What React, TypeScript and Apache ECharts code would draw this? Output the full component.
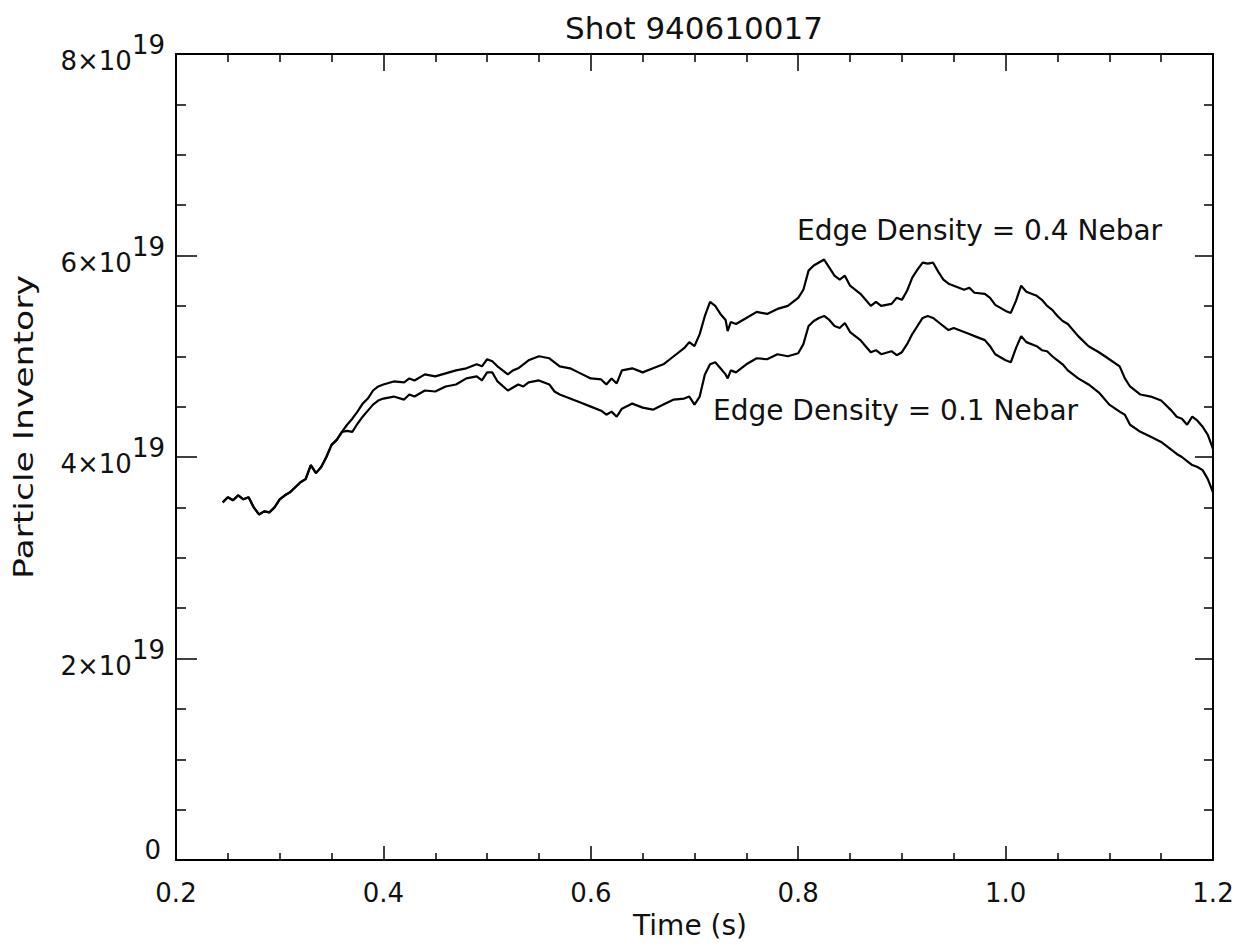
import React, { useEffect, useRef } from "react";
import * as echarts from "echarts";

// Time (s)
const timeShared: number[] = [0.245, 0.25, 0.255, 0.26, 0.265, 0.27, 0.275, 0.28, 0.285, 0.29, 0.295, 0.3, 0.305, 0.31, 0.315, 0.32, 0.325, 0.33, 0.335, 0.34, 0.345, 0.35, 0.355, 0.36];
// Particle inventory (x10^19), both curves overlap here
const valShared: number[] = [3.55, 3.6, 3.57, 3.62, 3.58, 3.6, 3.5, 3.43, 3.46, 3.45, 3.5, 3.58, 3.62, 3.65, 3.7, 3.75, 3.78, 3.92, 3.84, 3.9, 4.0, 4.12, 4.17, 4.25];

const timeSplit: number[] = [
  0.365, 0.37, 0.375, 0.38, 0.385, 0.39, 0.395, 0.4, 0.41, 0.42, 0.425, 0.43, 0.44, 0.45, 0.46, 0.47, 0.48, 0.49, 0.495, 0.5,
  0.505, 0.51, 0.52, 0.525, 0.53, 0.535, 0.54, 0.55, 0.56, 0.565, 0.57, 0.58, 0.59, 0.6, 0.61, 0.615, 0.62, 0.625, 0.63, 0.64,
  0.65, 0.66, 0.67, 0.68, 0.69, 0.695, 0.7, 0.705, 0.71, 0.715, 0.72, 0.725, 0.73, 0.732, 0.735, 0.74, 0.75, 0.76, 0.77, 0.78,
  0.79, 0.8, 0.805, 0.81, 0.815, 0.82, 0.825, 0.83, 0.835, 0.84, 0.845, 0.85, 0.86, 0.865, 0.87, 0.875, 0.88, 0.89, 0.895, 0.9,
  0.905, 0.91, 0.915, 0.92, 0.925, 0.93, 0.935, 0.94, 0.945, 0.95, 0.96, 0.965, 0.97, 0.98, 0.985, 0.99, 1.0, 1.005, 1.01, 1.015,
  1.02, 1.03, 1.035, 1.04, 1.045, 1.05, 1.055, 1.06, 1.07, 1.08, 1.09, 1.1, 1.11, 1.115, 1.12, 1.13, 1.14, 1.15, 1.16, 1.165,
  1.17, 1.175, 1.18, 1.185, 1.19, 1.195, 1.2,
];
// Edge Density = 0.4 Nebar (x10^19)
const edge04: number[] = [
  4.32, 4.38, 4.45, 4.53, 4.58, 4.66, 4.7, 4.72, 4.75, 4.74, 4.78, 4.76, 4.82, 4.8, 4.83, 4.86, 4.88, 4.92, 4.9, 4.97,
  4.95, 4.9, 4.82, 4.86, 4.88, 4.92, 4.96, 5.0, 4.98, 4.94, 4.9, 4.88, 4.83, 4.78, 4.77, 4.72, 4.78, 4.73, 4.86, 4.88,
  4.84, 4.88, 4.92, 5.0, 5.08, 5.14, 5.1, 5.22, 5.4, 5.54, 5.5, 5.42, 5.36, 5.25, 5.34, 5.32, 5.38, 5.44, 5.42, 5.47,
  5.5, 5.58, 5.66, 5.85, 5.9, 5.93, 5.96, 5.88, 5.8, 5.76, 5.8, 5.7, 5.62, 5.56, 5.5, 5.54, 5.5, 5.52, 5.58, 5.56,
  5.65, 5.78, 5.86, 5.93, 5.92, 5.93, 5.84, 5.76, 5.72, 5.7, 5.66, 5.68, 5.63, 5.62, 5.58, 5.51, 5.45, 5.43, 5.55, 5.7,
  5.64, 5.6, 5.56, 5.5, 5.46, 5.4, 5.35, 5.32, 5.2, 5.1, 5.04, 4.97, 4.9, 4.78, 4.7, 4.62, 4.6, 4.56, 4.46, 4.4,
  4.38, 4.32, 4.4, 4.36, 4.3, 4.22, 4.08,
];
// Edge Density = 0.1 Nebar (x10^19)
const edge01: number[] = [
  4.26, 4.25, 4.33, 4.4, 4.46, 4.52, 4.56, 4.58, 4.6, 4.57, 4.62, 4.6, 4.66, 4.65, 4.7, 4.72, 4.78, 4.8, 4.76, 4.84,
  4.84, 4.75, 4.66, 4.69, 4.72, 4.7, 4.74, 4.76, 4.72, 4.65, 4.62, 4.58, 4.54, 4.5, 4.46, 4.42, 4.45, 4.4, 4.48, 4.53,
  4.49, 4.47, 4.52, 4.57, 4.58, 4.6, 4.52, 4.6, 4.82, 4.92, 4.94, 4.88, 4.82, 4.78, 4.86, 4.84, 4.92, 4.98, 4.97, 5.02,
  5.0, 5.03, 5.12, 5.3, 5.35, 5.38, 5.4, 5.36, 5.3, 5.28, 5.33, 5.24, 5.16, 5.1, 5.04, 5.06, 5.02, 5.05, 5.01, 5.04,
  5.12, 5.22, 5.3, 5.38, 5.4, 5.38, 5.34, 5.3, 5.26, 5.28, 5.24, 5.22, 5.2, 5.16, 5.1, 5.02, 4.96, 4.94, 5.08, 5.2,
  5.14, 5.1, 5.06, 5.05, 5.0, 4.96, 4.92, 4.86, 4.78, 4.72, 4.64, 4.52, 4.45, 4.42, 4.32, 4.25, 4.2, 4.15, 4.07, 4.03,
  4.0, 3.96, 3.92, 3.9, 3.87, 3.78, 3.65,
];

const FONT = "DejaVu Sans";
const INK = "#111";

export default function App() {
  const ref = useRef<HTMLDivElement>(null);
  useEffect(() => {
    if (!ref.current) return;
    const chart = echarts.init(ref.current, undefined, { renderer: "svg" });
    const pair = (t: number[], v: number[]) => t.map((x, i) => [x, v[i]]);
    const shared = pair(timeShared, valShared);
    const upper = shared.concat(pair(timeSplit, edge04));
    const lower = shared.concat(pair(timeSplit, edge01));
    const axisLine = { show: true, onZero: false, lineStyle: { color: "#000", width: 2 } };
    const tickStyle = { color: "#000", width: 1.5 };
    chart.setOption({
      animation: false,
      backgroundColor: "#fff",
      grid: { left: 168, right: 25, top: 46, bottom: 81, containLabel: false },
      xAxis: [
        {
          type: "value",
          min: 0.2,
          max: 1.2,
          interval: 0.2,
          position: "bottom",
          axisLine,
          axisTick: { inside: true, length: 14, lineStyle: tickStyle },
          minorTick: { show: true, splitNumber: 4, length: 7, lineStyle: tickStyle },
          splitLine: { show: false },
          axisLabel: {
            margin: 18,
            formatter: (v: number) => `{t|${v.toFixed(1)}}`,
            rich: {
              t: { fontFamily: FONT, fontSize: 26, color: INK, lineHeight: 30 },
            },
          },
        },
        {
          type: "value",
          min: 0.2,
          max: 1.2,
          interval: 0.2,
          position: "top",
          axisLine,
          axisTick: { inside: true, length: 17, lineStyle: tickStyle },
          minorTick: { show: true, splitNumber: 4, length: 8, lineStyle: tickStyle },
          splitLine: { show: false },
          axisLabel: { show: false },
        },
      ],
      yAxis: [
        {
          type: "value",
          min: 0,
          max: 8,
          interval: 2,
          position: "left",
          axisLine,
          axisTick: { inside: true, length: 21, lineStyle: tickStyle },
          minorTick: { show: true, splitNumber: 4, length: 10, lineStyle: tickStyle },
          splitLine: { show: false },
          axisLabel: {
            margin: 11,
            padding: [14, 0, 0, 0],
            formatter: (v: number) => (v === 0 ? "{z|0}" : `{a|${v}×10}{s|19}`),
            rich: {
              a: { fontFamily: FONT, fontSize: 26, color: INK, verticalAlign: "bottom", lineHeight: 26 },
              s: { fontFamily: FONT, fontSize: 26, color: INK, verticalAlign: "bottom", lineHeight: 26, padding: [0, 0, 16, 0] },
              z: { fontFamily: FONT, fontSize: 26, color: INK, lineHeight: 26, padding: [0, 4, 34, 0] },
            },
          },
        },
        {
          type: "value",
          min: 0,
          max: 8,
          interval: 2,
          position: "right",
          axisLine,
          axisTick: { inside: true, length: 18, lineStyle: tickStyle },
          minorTick: { show: true, splitNumber: 4, length: 9, lineStyle: tickStyle },
          splitLine: { show: false },
          axisLabel: { show: false },
        },
      ],
      graphic: [
        {
          type: "text",
          x: 686,
          y: 20,
          style: { text: "Shot 940610017", fontFamily: FONT, fontSize: 31, fill: INK, align: "center", verticalAlign: "middle" },
        },
        {
          type: "text",
          x: 682,
          y: 917,
          style: { text: "Time (s)", fontFamily: FONT, fontSize: 28, fill: INK, align: "center", verticalAlign: "middle" },
        },
        {
          type: "text",
          x: 16,
          y: 419,
          rotation: Math.PI / 2,
          scaleX: 1.33,
          style: { text: "Particle Inventory", fontFamily: FONT, fontSize: 26, fill: INK, align: "center", verticalAlign: "middle" },
        },
        {
          type: "text",
          x: 789,
          y: 222,
          style: { text: "Edge Density = 0.4 Nebar", fontFamily: FONT, fontSize: 28, fill: INK, align: "left", verticalAlign: "middle" },
        },
        {
          type: "text",
          x: 705,
          y: 402,
          style: { text: "Edge Density = 0.1 Nebar", fontFamily: FONT, fontSize: 28, fill: INK, align: "left", verticalAlign: "middle" },
        },
      ],
      series: [
        {
          name: "Edge Density = 0.4 Nebar",
          type: "line",
          data: upper,
          showSymbol: false,
          symbol: "none",
          lineStyle: { color: "#000", width: 2.2 },
          z: 3,
        },
        {
          name: "Edge Density = 0.1 Nebar",
          type: "line",
          data: lower,
          showSymbol: false,
          symbol: "none",
          lineStyle: { color: "#000", width: 2.2 },
          z: 3,
        },
      ],
    });
    return () => chart.dispose();
  }, []);
  return <div ref={ref} style={{ width: 1230, height: 933 }} />;
}
